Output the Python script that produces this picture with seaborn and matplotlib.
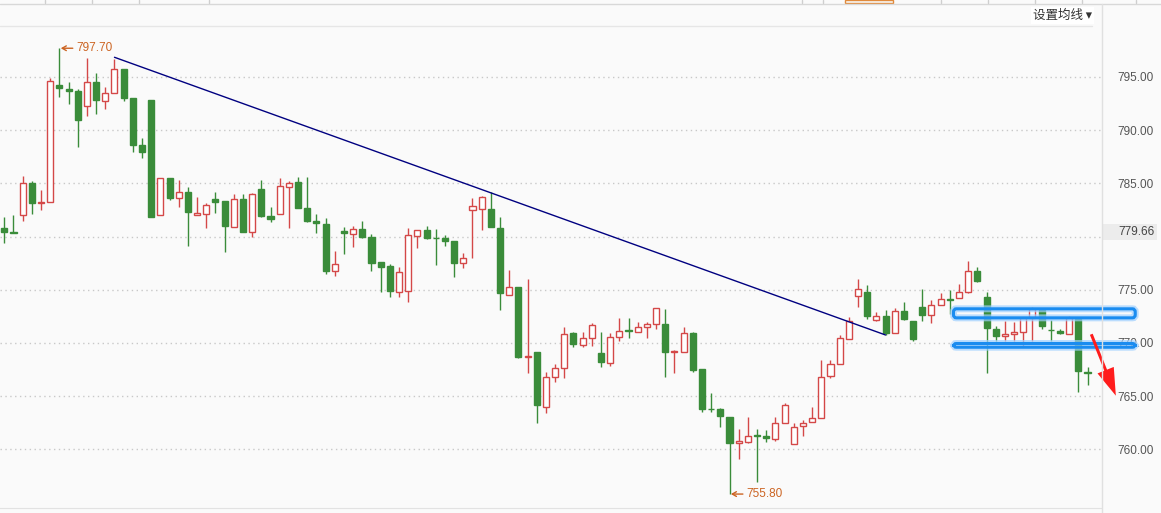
import numpy as np
import pandas as pd
import seaborn as sns
import matplotlib.pyplot as plt
import matplotlib.transforms as mtransforms
from matplotlib.patches import FancyBboxPatch, FancyArrowPatch, Rectangle
from matplotlib.lines import Line2D

# ---- candle data ----
opens = [780.78, 780.43, 782.00, 785.01, 783.20, 783.22, 794.25, 793.84, 793.68, 792.25,
         794.50, 792.74, 793.47, 795.75, 793.00, 788.61, 792.84, 782.00, 785.51, 783.60,
         784.16, 782.00, 782.09, 783.50, 783.34, 780.93, 783.53, 780.40, 784.47, 781.91,
         782.09, 784.63, 785.10, 782.66, 781.49, 781.18, 776.76, 780.52, 780.21, 780.71,
         779.99, 777.58, 777.23, 774.82, 774.91, 780.05, 780.62, 779.86, 779.87, 779.58,
         777.49, 782.50, 782.56, 782.59, 780.78, 774.48, 775.29, 768.68, 769.12, 764.01,
         766.77, 767.62, 770.91, 769.81, 770.44, 769.03, 768.14, 770.53, 771.17, 771.00,
         771.47, 771.75, 771.78, 769.16, 769.18, 770.96, 767.55, 763.81, 763.79, 763.01,
         760.57, 760.72, 761.30, 761.28, 760.94, 762.50, 760.47, 762.19, 762.54, 762.92,
         766.92, 767.98, 770.34, 774.44, 774.82, 772.13, 772.53, 770.96, 773.00, 772.06,
         773.35, 772.63, 773.57, 774.12, 774.20, 774.76, 776.79, 774.35, 771.28, 770.65,
         770.81, 771.06, 772.37, 773.10, 771.24, 771.12, 770.81, 772.25, 767.30]
highs = [781.87, 782.00, 785.69, 785.22, 784.38, 794.88, 797.70, 794.50, 793.87, 796.79,
         795.38, 794.03, 796.70, 795.75, 793.00, 789.29, 792.84, 785.48, 785.51, 785.29,
         784.69, 783.75, 783.18, 784.16, 783.34, 783.97, 784.00, 784.12, 785.32, 782.78,
         785.51, 785.20, 785.60, 785.63, 782.12, 781.77, 778.64, 780.93, 780.99, 781.46,
         780.24, 777.58, 777.39, 777.11, 780.78, 780.59, 780.99, 780.71, 780.15, 779.58,
         778.43, 783.60, 783.81, 784.22, 781.87, 776.86, 775.29, 776.01, 769.12, 767.30,
         768.02, 771.47, 771.06, 771.06, 771.85, 771.00, 770.91, 772.32, 772.32, 771.94,
         771.94, 773.26, 773.19, 769.34, 771.53, 771.06, 767.55, 765.27, 763.86, 763.01,
         761.88, 763.01, 761.88, 761.82, 763.01, 764.33, 762.45, 762.76, 763.95, 768.40,
         768.40, 770.75, 772.41, 775.98, 775.45, 772.94, 773.10, 773.31, 773.88, 772.06,
         775.04, 774.04, 774.72, 774.98, 775.51, 777.70, 777.11, 774.76, 771.59, 772.06,
         771.94, 772.47, 773.41, 773.10, 772.16, 771.31, 772.53, 772.47, 767.71]
lows = [779.37, 780.31, 781.49, 782.09, 782.50, 783.22, 793.15, 792.46, 788.39, 791.36,
        791.55, 792.02, 793.47, 792.74, 787.98, 787.41, 781.87, 782.00, 783.44, 782.81,
        779.14, 782.00, 780.83, 782.19, 778.58, 780.93, 780.43, 779.93, 781.87, 781.40,
        782.09, 780.85, 782.73, 781.40, 780.36, 776.48, 776.32, 778.33, 779.05, 779.89,
        776.79, 774.82, 774.35, 774.35, 773.88, 778.95, 779.74, 777.33, 779.11, 776.23,
        777.07, 778.01, 780.62, 780.87, 773.10, 774.48, 768.56, 767.15, 762.45, 763.39,
        766.36, 766.68, 769.65, 769.59, 769.74, 767.71, 767.86, 770.21, 770.44, 771.00,
        770.44, 771.28, 766.77, 767.20, 769.18, 767.24, 763.48, 763.48, 762.07, 755.80,
        759.06, 760.57, 756.96, 760.66, 760.81, 762.45, 760.47, 761.28, 762.54, 762.92,
        766.68, 767.98, 770.34, 773.41, 772.22, 772.06, 770.75, 770.91, 772.16, 770.21,
        772.09, 771.90, 773.57, 772.69, 774.20, 774.67, 775.76, 767.20, 770.21, 770.21,
        770.21, 769.65, 770.21, 771.31, 770.21, 770.84, 770.81, 765.42, 766.05]
closes = [780.40, 780.36, 785.01, 783.13, 783.25, 794.62, 793.94, 793.66, 790.93, 794.50,
          792.81, 793.47, 795.72, 793.05, 788.64, 787.98, 781.87, 785.48, 783.65, 784.16,
          782.34, 782.22, 782.97, 783.28, 781.02, 783.50, 780.43, 784.00, 781.96, 781.68,
          784.75, 785.01, 782.73, 781.49, 781.25, 776.79, 777.39, 780.31, 780.68, 779.99,
          777.54, 777.17, 774.91, 776.64, 780.15, 780.59, 779.89, 779.82, 779.61, 777.54,
          777.96, 782.87, 783.69, 780.87, 774.67, 775.29, 768.71, 768.74, 764.17, 766.77,
          767.62, 770.81, 769.87, 770.44, 771.69, 768.24, 770.53, 771.15, 771.13, 771.47,
          771.75, 773.26, 769.18, 769.20, 770.91, 767.46, 763.82, 763.77, 763.16, 760.62,
          760.78, 761.28, 761.26, 761.04, 762.45, 764.14, 762.13, 762.45, 762.92, 766.77,
          768.02, 770.44, 772.09, 775.04, 772.53, 772.53, 770.96, 773.00, 772.22, 770.34,
          772.63, 773.57, 774.10, 774.08, 774.76, 776.79, 775.85, 771.38, 770.68, 770.81,
          771.00, 772.37, 773.16, 771.62, 771.20, 770.91, 772.32, 767.39, 767.15]

# drawn trend line (candle index, price)
trend_x = [12, 96]
trend_y = [796.85, 770.75]

# marked extremes
extreme_idx = [6, 79]
extreme_val = [797.70, 755.80]

# blue boxes: x span in candle index, price span
zone_x = [103.4, 123.2]
zone_upper = [772.36, 773.21]
zone_lower = [769.60, 769.95]

# red arrow start/end
arrow_start = (118.3, 771.06)
arrow_end = (121.2, 764.8)

yticks = [760, 765, 770, 775, 780, 785, 790, 795]
last_price = 779.66

RED = "#d44848"
GREEN = "#3a8c3a"
BG = "#fafafa"
ORANGE = "#cc6422"

df = pd.DataFrame({"open": opens, "high": highs, "low": lows, "close": closes})
df["idx"] = np.arange(len(df))
df["up"] = df["close"] >= df["open"]

sns.set_style("white")
plt.rcParams["font.family"] = ["Liberation Sans", "Noto Sans CJK SC", "DejaVu Sans"]

fig = plt.figure(figsize=(11.61, 5.13), dpi=100, facecolor=BG)
ax = fig.add_axes([0, 5 / 513, 1101 / 1161, 482 / 513])
ax.set_facecolor(BG)

# candles
for up, col, face in [(True, RED, "white"), (False, GREEN, GREEN)]:
    d = df[df["up"] == up]
    ax.vlines(d["idx"], d["low"], d["high"], color=col, lw=1, zorder=2)
    bottom = np.minimum(d["open"], d["close"])
    height = np.maximum((d["close"] - d["open"]).abs(), 0.06)
    ax.bar(d["idx"], height, 0.66, bottom=bottom, facecolor=face,
           edgecolor=col, lw=1, zorder=3)

# trend line
sns.lineplot(x=trend_x, y=trend_y, color="#000080", lw=1, ax=ax, zorder=4)

# high / low markers
for i, v in zip(extreme_idx, extreme_val):
    ax.annotate(f"{v:.2f}", xy=(i, v), xytext=(12, 0), textcoords="offset points",
                ha="left", va="center", color=ORANGE, fontsize=8.5,
                arrowprops=dict(arrowstyle="->,head_length=0.35,head_width=0.2",
                                color=ORANGE, lw=1, shrinkA=0, shrinkB=1,
                                relpos=(0, 0.5)))

# blue boxes
for lo, hi in [zone_upper, zone_lower]:
    for lw, col, a in [(5, "#9fd0ff", 0.7), (2.2, "#1a8cf0", 1.0)]:
        p = FancyBboxPatch((zone_x[0], lo), zone_x[1] - zone_x[0], hi - lo,
                           boxstyle="round,pad=0,rounding_size=0.3",
                           fill=False, edgecolor=col, lw=lw, alpha=a,
                           clip_on=False, zorder=6)
        ax.add_patch(p)

# red arrow
ax.add_patch(FancyArrowPatch(arrow_start, arrow_end,
                             arrowstyle="simple,head_length=1.1,head_width=0.7,tail_width=0.12",
                             mutation_scale=18, color="#ff1c1c", lw=0,
                             clip_on=False, zorder=7))

ax.set_xlim(-0.47, 119.47)
ax.set_ylim(754.49, 799.79)
ax.set_xticks([])
ax.set_yticks(yticks)
ax.set_yticklabels(["" if t == 780 else f"{t:.2f}" for t in yticks])
ax.yaxis.tick_right()
ax.tick_params(axis="y", length=0, pad=12, labelsize=8.5, labelcolor="#555555")
ax.grid(axis="y", color="#c8c8c8", linestyle=(0, (1, 2.5)), lw=1)
ax.set_axisbelow(True)
for s in ["left", "right", "top"]:
    ax.spines[s].set_visible(False)
ax.spines["bottom"].set_color("#e2e2e2")

# last price tag
tr = mtransforms.blended_transform_factory(ax.transAxes, ax.transData)
ax.add_patch(Rectangle((1.002, last_price), 0.049, 1.5, transform=tr,
                       facecolor="#ececec", edgecolor="none", clip_on=False, zorder=5))
ax.text(1.0154, last_price + 0.75, f"{last_price:.2f}", transform=tr, ha="left",
        va="center", fontsize=8.5, color="#444444", zorder=6, clip_on=False)

# header chrome
W, H = 1161, 513
fig.add_artist(Line2D([0, 1], [1 - 3.5 / H] * 2, color="#d8d8d8", lw=1))
fig.add_artist(Line2D([0, 1092 / W], [1 - 25.5 / H] * 2, color="#e6e6e6", lw=1))
fig.add_artist(Line2D([1101.5 / W] * 2, [0, 1 - 4 / H], color="#e0e0e0", lw=1))
for xs in [45, 92, 139, 209, 802, 823, 941, 988, 1035, 1082, 1136]:
    fig.add_artist(Line2D([xs / W] * 2, [1 - 3 / H, 1], color="#cfcfcf", lw=1))
fig.add_artist(Rectangle((845 / W, 1 - 3 / H), 48 / W, 3 / H, fill=False,
                         edgecolor="#e08a3c", lw=1))
fig.text(1033 / W, 1 - 15.5 / H, "设置均线 ▾", ha="left", va="center", fontsize=9,
         color="#333333", family=["Noto Sans CJK SC", "DejaVu Sans"],
         bbox=dict(boxstyle="square,pad=0.15", fc="white", ec="none"))

fig.savefig("out.png", dpi=100, facecolor=BG)
